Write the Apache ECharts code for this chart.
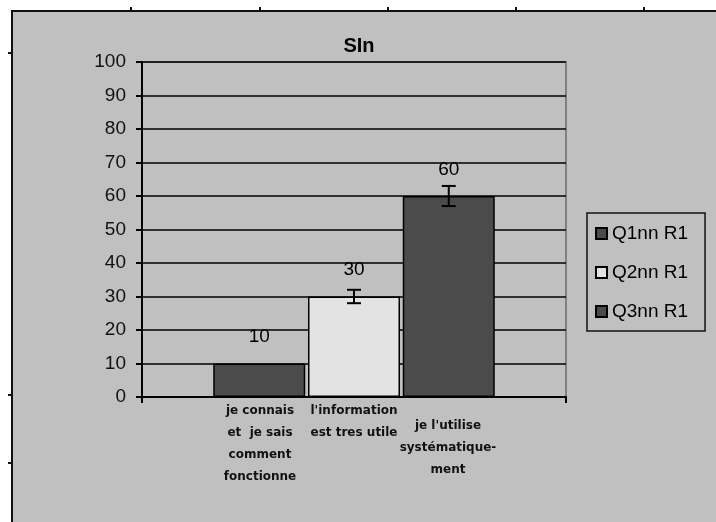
<!DOCTYPE html>
<html>
<head>
<meta charset="utf-8">
<script src="https://cdn.jsdelivr.net/npm/echarts@6/dist/echarts.min.js"></script>
<style>
  html, body { margin: 0; padding: 0; background: #fff; }
  #main { width: 716px; height: 522px; }
</style>
</head>
<body>
<div id="main"></div>
<script>
// données du graphique
const chartTitle = 'SIn';
const seriesNames = ['Q1nn R1', 'Q2nn R1', 'Q3nn R1'];
const values = [10, 30, 60];
const errors = [0, 2, 3];
const barColors = ['#4b4b4b', '#e3e3e3', '#4b4b4b'];
const categoryLabels = [
  'je connais\net  je sais\ncomment\nfonctionne',
  "l'information\nest tres utile",
  "je l'utilise\nsystématique-\nment"
];
const yMin = 0, yMax = 100, yStep = 10;

// petites marques du cadre (feuille excel)
const frameTopTicks = [131, 260, 388, 516, 644];
const frameLeftTicks = [53, 395, 463];

const BAR_W = 92;
const BAR_GAP = 0.03;
const FONT = '"Liberation Sans", Arial, sans-serif';

const myChart = echarts.init(document.getElementById('main'));

const barSeries = seriesNames.map((name, i) => ({
  name: name,
  type: 'bar',
  xAxisIndex: 0,
  yAxisIndex: 0,
  data: [values[i]],
  barWidth: BAR_W,
  barGap: (BAR_GAP * 100) + '%',
  itemStyle: { color: barColors[i], borderColor: '#000', borderWidth: 1.5 },
  label: {
    show: true,
    position: 'top',
    distance: 17,
    color: '#000',
    fontFamily: FONT,
    fontSize: 19
  },
  emphasis: { disabled: true }
}));

// barres d'erreur
const errorSeries = {
  type: 'custom',
  xAxisIndex: 0,
  yAxisIndex: 0,
  silent: true,
  z: 5,
  data: values.map((v, i) => [0, v, errors[i], i]),
  renderItem: (params, api) => {
    const err = api.value(2);
    if (!err) return null;
    const i = api.value(3);
    const cx = api.coord([0, 0])[0] + (i - 1) * BAR_W * (1 + BAR_GAP);
    const yTop = api.coord([0, api.value(1) + err])[1];
    const yBot = api.coord([0, api.value(1) - err])[1];
    const st = { stroke: '#000', lineWidth: 2 };
    return {
      type: 'group',
      children: [
        { type: 'line', shape: { x1: cx, y1: yTop, x2: cx, y2: yBot }, style: st },
        { type: 'line', shape: { x1: cx - 7, y1: yTop, x2: cx + 7, y2: yTop }, style: st },
        { type: 'line', shape: { x1: cx - 7, y1: yBot, x2: cx + 7, y2: yBot }, style: st }
      ]
    };
  }
};

const frameEls = [
  {
    type: 'rect', z: -10,
    shape: { x: 12, y: 11, width: 760, height: 560 },
    style: { fill: '#c0c0c0', stroke: '#111', lineWidth: 2 }
  }
];
frameTopTicks.forEach(x => frameEls.push({
  type: 'line', z: -9,
  shape: { x1: x, y1: 7, x2: x, y2: 11 },
  style: { stroke: '#111', lineWidth: 2 }
}));
frameLeftTicks.forEach(y => frameEls.push({
  type: 'line', z: -9,
  shape: { x1: 8, y1: y, x2: 12, y2: y },
  style: { stroke: '#111', lineWidth: 2 }
}));

const option = {
  backgroundColor: '#fff',
  animation: false,
  graphic: frameEls,
  title: {
    text: chartTitle,
    left: 354,
    top: 31,
    textAlign: 'center',
    textStyle: { fontFamily: FONT, fontSize: 20, fontWeight: 'bold', color: '#000' }
  },
  legend: {
    data: seriesNames,
    orient: 'vertical',
    left: 587,
    top: 213,
    padding: [11, 17, 10, 8],
    itemGap: 20,
    itemWidth: 11,
    itemHeight: 11,
    itemTextGap: 8,
    icon: 'rect',
    borderColor: '#111',
    borderWidth: 1.5,
    selectedMode: false,
    textStyle: { fontFamily: FONT, fontSize: 19, lineHeight: 18, color: '#000' }
  },
  grid: [
    {
      left: 142, right: 150, top: 62, bottom: 125,
      show: true,
      backgroundColor: '#c0c0c0',
      borderColor: '#808080',
      borderWidth: 2
    },
    { left: 213, width: 282, top: 62, bottom: 125 }
  ],
  xAxis: [
    {
      type: 'category',
      gridIndex: 0,
      data: [''],
      axisLine: { lineStyle: { color: '#000', width: 2 } },
      axisTick: { show: true, length: 6, lineStyle: { color: '#000', width: 2 } },
      axisLabel: { show: false }
    },
    {
      type: 'category',
      gridIndex: 1,
      data: categoryLabels.map((t, i) => i === 2
        ? { value: t, textStyle: { padding: [15, 0, 0, 0] } }
        : t),
      axisLine: { show: false },
      axisTick: { show: false },
      axisLabel: {
        interval: 0,
        margin: 3,
        verticalAlign: 'top',
        fontFamily: '"DejaVu Sans", sans-serif',
        fontWeight: 'bold',
        fontSize: 12,
        lineHeight: 22,
        color: '#111'
      }
    }
  ],
  yAxis: [
    {
      type: 'value',
      gridIndex: 0,
      min: yMin,
      max: yMax,
      interval: yStep,
      axisLine: { show: true, lineStyle: { color: '#000', width: 2 } },
      axisTick: { show: true, length: 6, lineStyle: { color: '#000', width: 2 } },
      axisLabel: { margin: 16, fontFamily: FONT, fontSize: 19, color: '#111' },
      splitLine: { lineStyle: { color: '#000', width: 1.5 } }
    },
    { type: 'value', gridIndex: 1, show: false, min: yMin, max: yMax }
  ],
  series: [...barSeries, errorSeries]
};

option && myChart.setOption(option);
</script>
</body>
</html>
